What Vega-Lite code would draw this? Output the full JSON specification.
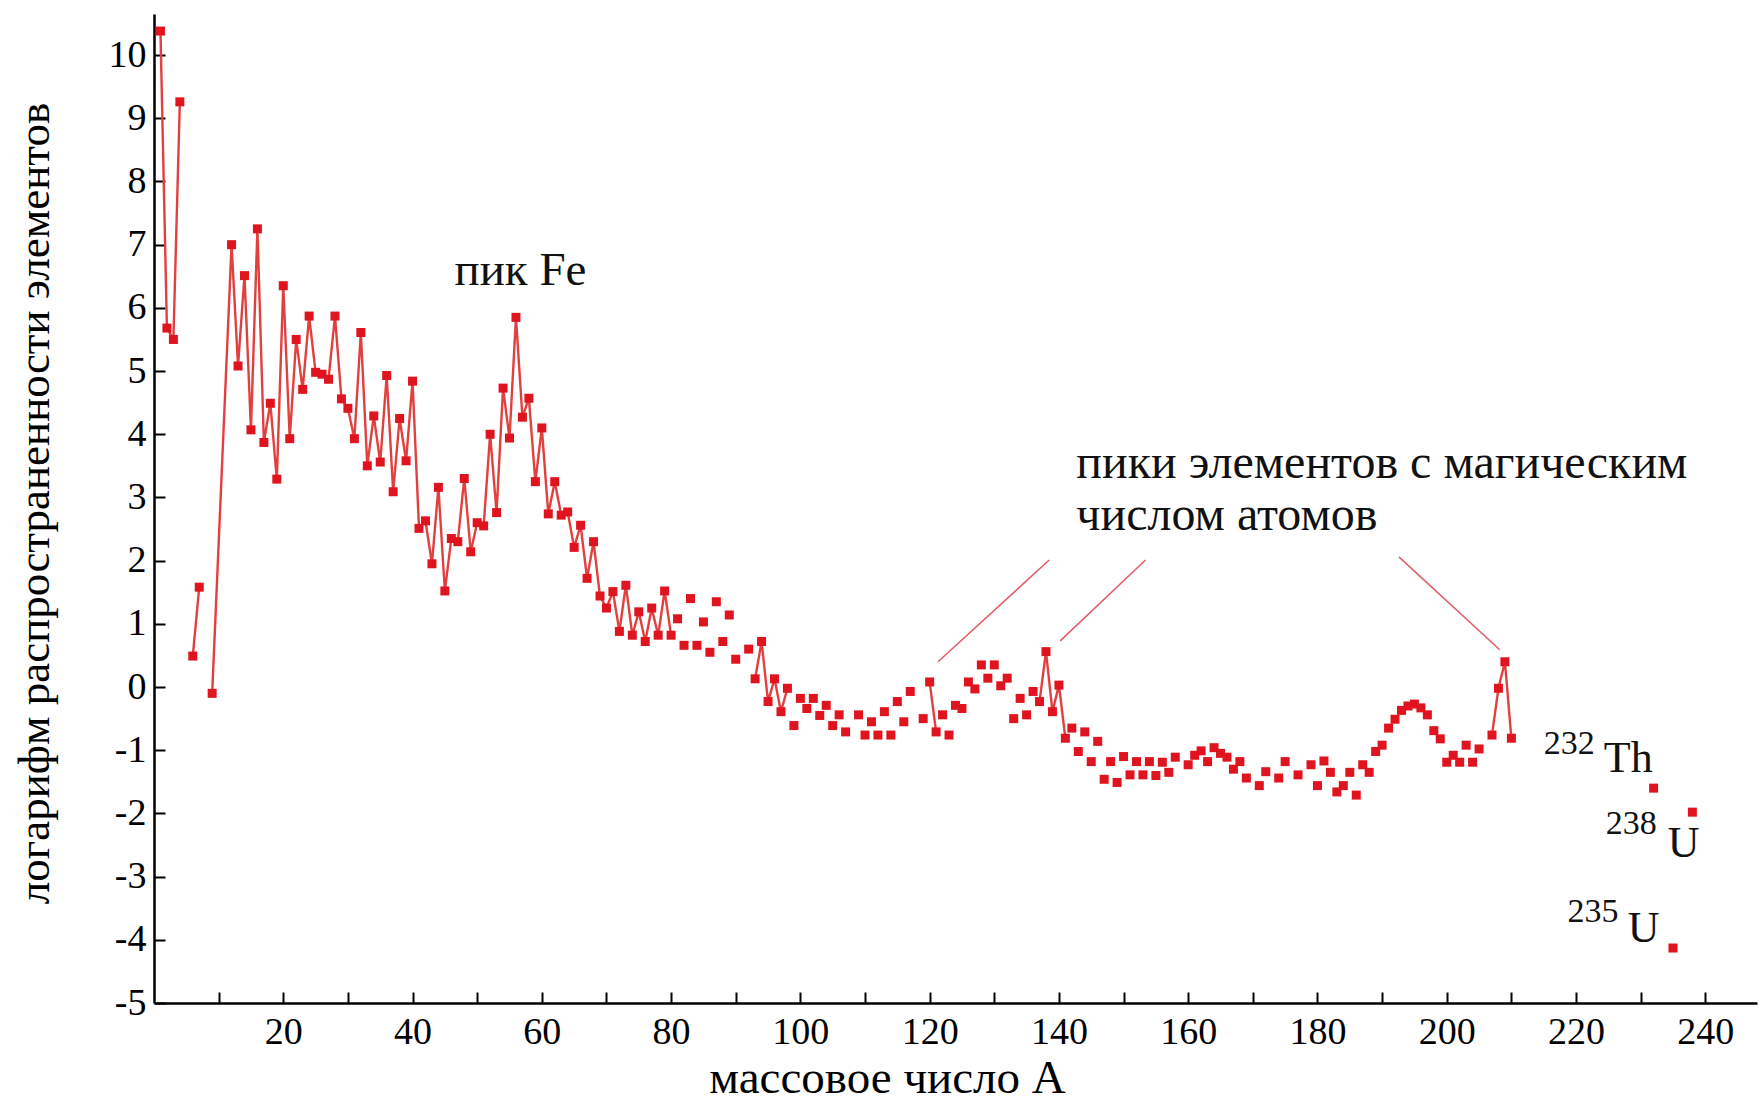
{
  "$schema": "https://vega.github.io/schema/vega-lite/v6.json",
  "autosize": {"type": "none"},
  "width": 1603,
  "height": 989,
  "padding": {"left": 154, "top": 14, "right": 4, "bottom": 101},
  "background": "white",
  "config": {"view": {"stroke": null}, "font": "Liberation Serif"},
  "datasets": {
    "abund": [
      {"A": 1, "v": 10.38, "seg": "a"}, {"A": 2, "v": 5.68, "seg": "a"}, {"A": 3, "v": 5.5, "seg": "a"}, {"A": 4, "v": 9.26, "seg": "a"},
      {"A": 6, "v": 0.49, "seg": "b"}, {"A": 7, "v": 1.58, "seg": "b"},
      {"A": 9, "v": -0.1, "seg": "c"}, {"A": 12, "v": 7.0, "seg": "c"}, {"A": 13, "v": 5.08, "seg": "c"}, {"A": 14, "v": 6.51, "seg": "c"},
      {"A": 15, "v": 4.07, "seg": "c"}, {"A": 16, "v": 7.25, "seg": "c"}, {"A": 17, "v": 3.87, "seg": "c"}, {"A": 18, "v": 4.49, "seg": "c"},
      {"A": 19, "v": 3.29, "seg": "c"}, {"A": 20, "v": 6.35, "seg": "c"}, {"A": 21, "v": 3.93, "seg": "c"}, {"A": 22, "v": 5.5, "seg": "c"},
      {"A": 23, "v": 4.71, "seg": "c"}, {"A": 24, "v": 5.87, "seg": "c"}, {"A": 25, "v": 4.98, "seg": "c"}, {"A": 26, "v": 4.95, "seg": "c"},
      {"A": 27, "v": 4.87, "seg": "c"}, {"A": 28, "v": 5.87, "seg": "c"}, {"A": 29, "v": 4.56, "seg": "c"}, {"A": 30, "v": 4.41, "seg": "c"},
      {"A": 31, "v": 3.93, "seg": "c"}, {"A": 32, "v": 5.61, "seg": "c"}, {"A": 33, "v": 3.5, "seg": "c"}, {"A": 34, "v": 4.29, "seg": "c"},
      {"A": 35, "v": 3.56, "seg": "c"}, {"A": 36, "v": 4.93, "seg": "c"}, {"A": 37, "v": 3.09, "seg": "c"}, {"A": 38, "v": 4.25, "seg": "c"},
      {"A": 39, "v": 3.58, "seg": "c"}, {"A": 40, "v": 4.84, "seg": "c"}, {"A": 41, "v": 2.51, "seg": "c"}, {"A": 42, "v": 2.63, "seg": "c"},
      {"A": 43, "v": 1.95, "seg": "c"}, {"A": 44, "v": 3.16, "seg": "c"}, {"A": 45, "v": 1.52, "seg": "c"}, {"A": 46, "v": 2.35, "seg": "c"},
      {"A": 47, "v": 2.3, "seg": "c"}, {"A": 48, "v": 3.3, "seg": "c"}, {"A": 49, "v": 2.14, "seg": "c"}, {"A": 50, "v": 2.6, "seg": "c"},
      {"A": 51, "v": 2.55, "seg": "c"}, {"A": 52, "v": 4.0, "seg": "c"}, {"A": 53, "v": 2.76, "seg": "c"}, {"A": 54, "v": 4.73, "seg": "c"},
      {"A": 55, "v": 3.94, "seg": "c"}, {"A": 56, "v": 5.85, "seg": "c"}, {"A": 57, "v": 4.27, "seg": "c"}, {"A": 58, "v": 4.57, "seg": "c"},
      {"A": 59, "v": 3.25, "seg": "c"}, {"A": 60, "v": 4.1, "seg": "c"}, {"A": 61, "v": 2.74, "seg": "c"}, {"A": 62, "v": 3.25, "seg": "c"},
      {"A": 63, "v": 2.72, "seg": "c"}, {"A": 64, "v": 2.77, "seg": "c"}, {"A": 65, "v": 2.21, "seg": "c"}, {"A": 66, "v": 2.56, "seg": "c"},
      {"A": 67, "v": 1.72, "seg": "c"}, {"A": 68, "v": 2.3, "seg": "c"}, {"A": 69, "v": 1.44, "seg": "c"}, {"A": 70, "v": 1.25, "seg": "c"},
      {"A": 71, "v": 1.51, "seg": "c"}, {"A": 72, "v": 0.88, "seg": "c"}, {"A": 73, "v": 1.61, "seg": "c"}, {"A": 74, "v": 0.82, "seg": "c"},
      {"A": 75, "v": 1.19, "seg": "c"}, {"A": 76, "v": 0.72, "seg": "c"}, {"A": 77, "v": 1.25, "seg": "c"}, {"A": 78, "v": 0.82, "seg": "c"},
      {"A": 79, "v": 1.52, "seg": "c"}, {"A": 80, "v": 0.82, "seg": "c"},
      {"A": 81, "v": 1.08, "seg": ""}, {"A": 82, "v": 0.66, "seg": ""}, {"A": 83, "v": 1.4, "seg": ""}, {"A": 84, "v": 0.66, "seg": ""},
      {"A": 85, "v": 1.03, "seg": ""}, {"A": 86, "v": 0.55, "seg": ""}, {"A": 87, "v": 1.35, "seg": ""}, {"A": 88, "v": 0.72, "seg": ""},
      {"A": 89, "v": 1.14, "seg": ""}, {"A": 90, "v": 0.44, "seg": ""}, {"A": 92, "v": 0.6, "seg": ""},
      {"A": 93, "v": 0.13, "seg": "d"}, {"A": 94, "v": 0.72, "seg": "d"}, {"A": 95, "v": -0.23, "seg": "d"}, {"A": 96, "v": 0.13, "seg": "d"},
      {"A": 97, "v": -0.39, "seg": "d"}, {"A": 98, "v": -0.02, "seg": "d"},
      {"A": 99, "v": -0.61, "seg": ""}, {"A": 100, "v": -0.18, "seg": ""}, {"A": 101, "v": -0.34, "seg": ""}, {"A": 102, "v": -0.18, "seg": ""},
      {"A": 103, "v": -0.45, "seg": ""}, {"A": 104, "v": -0.29, "seg": ""}, {"A": 105, "v": -0.61, "seg": ""}, {"A": 106, "v": -0.44, "seg": ""},
      {"A": 107, "v": -0.71, "seg": ""}, {"A": 109, "v": -0.44, "seg": ""}, {"A": 110, "v": -0.76, "seg": ""}, {"A": 111, "v": -0.55, "seg": ""},
      {"A": 112, "v": -0.76, "seg": ""}, {"A": 113, "v": -0.39, "seg": ""}, {"A": 114, "v": -0.76, "seg": ""}, {"A": 115, "v": -0.23, "seg": ""},
      {"A": 116, "v": -0.55, "seg": ""}, {"A": 117, "v": -0.07, "seg": ""}, {"A": 119, "v": -0.5, "seg": ""},
      {"A": 120, "v": 0.08, "seg": "e"}, {"A": 121, "v": -0.71, "seg": "e"},
      {"A": 122, "v": -0.44, "seg": ""}, {"A": 123, "v": -0.76, "seg": ""}, {"A": 124, "v": -0.29, "seg": ""}, {"A": 125, "v": -0.34, "seg": ""},
      {"A": 126, "v": 0.08, "seg": ""}, {"A": 127, "v": -0.03, "seg": ""}, {"A": 128, "v": 0.35, "seg": ""}, {"A": 129, "v": 0.14, "seg": ""},
      {"A": 130, "v": 0.35, "seg": ""}, {"A": 131, "v": 0.02, "seg": ""}, {"A": 132, "v": 0.14, "seg": ""}, {"A": 133, "v": -0.5, "seg": ""},
      {"A": 134, "v": -0.18, "seg": ""}, {"A": 135, "v": -0.44, "seg": ""}, {"A": 136, "v": -0.07, "seg": ""},
      {"A": 137, "v": -0.23, "seg": "f"}, {"A": 138, "v": 0.56, "seg": "f"}, {"A": 139, "v": -0.39, "seg": "f"}, {"A": 140, "v": 0.03, "seg": "f"},
      {"A": 141, "v": -0.81, "seg": "f"},
      {"A": 142, "v": -0.65, "seg": ""}, {"A": 143, "v": -1.02, "seg": ""}, {"A": 144, "v": -0.71, "seg": ""}, {"A": 145, "v": -1.18, "seg": ""},
      {"A": 146, "v": -0.86, "seg": ""}, {"A": 147, "v": -1.46, "seg": ""}, {"A": 148, "v": -1.18, "seg": ""}, {"A": 149, "v": -1.51, "seg": ""},
      {"A": 150, "v": -1.1, "seg": ""}, {"A": 151, "v": -1.39, "seg": ""}, {"A": 152, "v": -1.18, "seg": ""}, {"A": 153, "v": -1.39, "seg": ""},
      {"A": 154, "v": -1.18, "seg": ""}, {"A": 155, "v": -1.4, "seg": ""}, {"A": 156, "v": -1.19, "seg": ""}, {"A": 157, "v": -1.35, "seg": ""},
      {"A": 158, "v": -1.11, "seg": ""}, {"A": 160, "v": -1.23, "seg": ""}, {"A": 161, "v": -1.08, "seg": ""}, {"A": 162, "v": -1.01, "seg": ""},
      {"A": 163, "v": -1.18, "seg": ""}, {"A": 164, "v": -0.96, "seg": ""}, {"A": 165, "v": -1.05, "seg": ""}, {"A": 166, "v": -1.11, "seg": ""},
      {"A": 167, "v": -1.3, "seg": ""}, {"A": 168, "v": -1.18, "seg": ""}, {"A": 169, "v": -1.44, "seg": ""}, {"A": 171, "v": -1.56, "seg": ""},
      {"A": 172, "v": -1.34, "seg": ""}, {"A": 174, "v": -1.44, "seg": ""}, {"A": 175, "v": -1.18, "seg": ""}, {"A": 177, "v": -1.39, "seg": ""},
      {"A": 179, "v": -1.23, "seg": ""}, {"A": 180, "v": -1.56, "seg": ""}, {"A": 181, "v": -1.17, "seg": ""}, {"A": 182, "v": -1.35, "seg": ""},
      {"A": 183, "v": -1.66, "seg": ""}, {"A": 184, "v": -1.56, "seg": ""}, {"A": 185, "v": -1.35, "seg": ""}, {"A": 186, "v": -1.71, "seg": ""},
      {"A": 187, "v": -1.23, "seg": ""}, {"A": 188, "v": -1.35, "seg": ""}, {"A": 189, "v": -1.02, "seg": ""}, {"A": 190, "v": -0.92, "seg": ""},
      {"A": 191, "v": -0.65, "seg": ""}, {"A": 192, "v": -0.51, "seg": ""}, {"A": 193, "v": -0.37, "seg": ""}, {"A": 194, "v": -0.3, "seg": ""},
      {"A": 195, "v": -0.27, "seg": ""}, {"A": 196, "v": -0.33, "seg": ""}, {"A": 197, "v": -0.44, "seg": ""}, {"A": 198, "v": -0.69, "seg": ""},
      {"A": 199, "v": -0.82, "seg": ""}, {"A": 200, "v": -1.19, "seg": ""}, {"A": 201, "v": -1.08, "seg": ""}, {"A": 202, "v": -1.19, "seg": ""},
      {"A": 203, "v": -0.92, "seg": ""}, {"A": 204, "v": -1.19, "seg": ""}, {"A": 205, "v": -0.98, "seg": ""},
      {"A": 207, "v": -0.76, "seg": "g"}, {"A": 208, "v": -0.02, "seg": "g"}, {"A": 209, "v": 0.4, "seg": "g"}, {"A": 210, "v": -0.81, "seg": "g"},
      {"A": 232, "v": -1.6, "seg": ""}, {"A": 235, "v": -4.13, "seg": ""}, {"A": 238, "v": -1.98, "seg": ""}
    ],
    "pointers": [
      {"A1": 121.3, "v1": 0.4, "A2": 138.5, "v2": 2.01},
      {"A1": 140.2, "v1": 0.73, "A2": 153.4, "v2": 2.01},
      {"A1": 208.2, "v1": 0.59, "A2": 192.6, "v2": 2.06}
    ],
    "labels": [
      {"A": 56.7, "v": 6.36, "text": "пик Fe", "kind": "fe"},
      {"A": 142.7, "v": 3.31, "text": "пики элементов с магическим", "kind": "magic"},
      {"A": 142.7, "v": 2.48, "text": "числом атомов", "kind": "magic"},
      {"A": 224.3, "v": -1.34, "text": "Th", "kind": "sym"},
      {"A": 234.2, "v": -2.69, "text": "U", "kind": "sym"},
      {"A": 228.0, "v": -4.03, "text": "U", "kind": "sym"},
      {"A": 215.0, "v": -1.06, "text": "232", "kind": "iso"},
      {"A": 224.6, "v": -2.33, "text": "238", "kind": "iso"},
      {"A": 218.7, "v": -3.72, "text": "235", "kind": "iso"}
    ]
  },
  "layer": [
    {
      "data": {"name": "pointers"},
      "mark": {"type": "rule", "color": "#e0606a", "strokeWidth": 1.6},
      "encoding": {
        "x": {"field": "A1", "type": "quantitative", "scale": {"domain": [0, 248], "nice": false, "zero": false},
          "axis": {
            "values": [10, 20, 30, 40, 50, 60, 70, 80, 90, 100, 110, 120, 130, 140, 150, 160, 170, 180, 190, 200, 210, 220, 230, 240],
            "labelExpr": "datum.value % 20 == 0 ? '' + datum.value : ''",
            "labelOverlap": false, "labelFlush": false, "grid": false,
            "tickSize": -11, "tickWidth": 2, "tickColor": "black",
            "domainColor": "black", "domainWidth": 2.5,
            "labelPadding": 21, "labelFont": "Liberation Serif", "labelFontSize": 38, "labelColor": "black",
            "title": "массовое число A", "titleFont": "Liberation Serif", "titleFontSize": 47, "titleFontWeight": "normal", "titleColor": "black",
            "titleX": 733, "titleY": 89, "titleBaseline": "alphabetic", "titleAlign": "center"
          }},
        "y": {"field": "v1", "type": "quantitative", "scale": {"domain": [-5, 10.65], "nice": false, "zero": false},
          "axis": {
            "values": [-5, -4, -3, -2, -1, 0, 1, 2, 3, 4, 5, 6, 7, 8, 9, 10],
            "labelExpr": "'' + datum.value",
            "labelOverlap": false, "labelFlush": false, "grid": false,
            "tickSize": -11, "tickWidth": 2, "tickColor": "black",
            "domainColor": "black", "domainWidth": 2.5,
            "labelPadding": 19, "labelFont": "Liberation Serif", "labelFontSize": 38, "labelColor": "black",
            "title": "логарифм распространенности элементов", "titleFont": "Liberation Serif", "titleFontSize": 45, "titleFontWeight": "normal", "titleColor": "black",
            "titleX": -120, "titleY": 489, "titleBaseline": "middle", "titleAlign": "center", "titleAngle": -90
          }},
        "x2": {"field": "A2"},
        "y2": {"field": "v2"}
      }
    },
    {
      "data": {"name": "abund"},
      "transform": [{"filter": "datum.seg != ''"}],
      "mark": {"type": "line", "color": "#e2403f", "strokeWidth": 2.4},
      "encoding": {
        "x": {"field": "A", "type": "quantitative"},
        "y": {"field": "v", "type": "quantitative"},
        "detail": {"field": "seg"},
        "order": {"field": "A", "type": "quantitative"}
      }
    },
    {
      "data": {"name": "abund"},
      "mark": {"type": "point", "shape": "square", "filled": true, "size": 81, "color": "#e0141e", "opacity": 1},
      "encoding": {
        "x": {"field": "A", "type": "quantitative"},
        "y": {"field": "v", "type": "quantitative"}
      }
    },
    {
      "data": {"name": "labels"},
      "transform": [{"filter": "datum.kind == 'fe'"}],
      "mark": {"type": "text", "font": "Liberation Serif", "fontSize": 47, "align": "center", "baseline": "alphabetic", "color": "#111"},
      "encoding": {
        "x": {"field": "A", "type": "quantitative"},
        "y": {"field": "v", "type": "quantitative"},
        "text": {"field": "text"}
      }
    },
    {
      "data": {"name": "labels"},
      "transform": [{"filter": "datum.kind == 'magic'"}],
      "mark": {"type": "text", "font": "Liberation Serif", "fontSize": 48, "align": "left", "baseline": "alphabetic", "color": "#111"},
      "encoding": {
        "x": {"field": "A", "type": "quantitative"},
        "y": {"field": "v", "type": "quantitative"},
        "text": {"field": "text"}
      }
    },
    {
      "data": {"name": "labels"},
      "transform": [{"filter": "datum.kind == 'sym'"}],
      "mark": {"type": "text", "font": "Liberation Serif", "fontSize": 44, "align": "left", "baseline": "alphabetic", "color": "#111"},
      "encoding": {
        "x": {"field": "A", "type": "quantitative"},
        "y": {"field": "v", "type": "quantitative"},
        "text": {"field": "text"}
      }
    },
    {
      "data": {"name": "labels"},
      "transform": [{"filter": "datum.kind == 'iso'"}],
      "mark": {"type": "text", "font": "Liberation Serif", "fontSize": 34, "align": "left", "baseline": "alphabetic", "color": "#111"},
      "encoding": {
        "x": {"field": "A", "type": "quantitative"},
        "y": {"field": "v", "type": "quantitative"},
        "text": {"field": "text"}
      }
    }
  ]
}
